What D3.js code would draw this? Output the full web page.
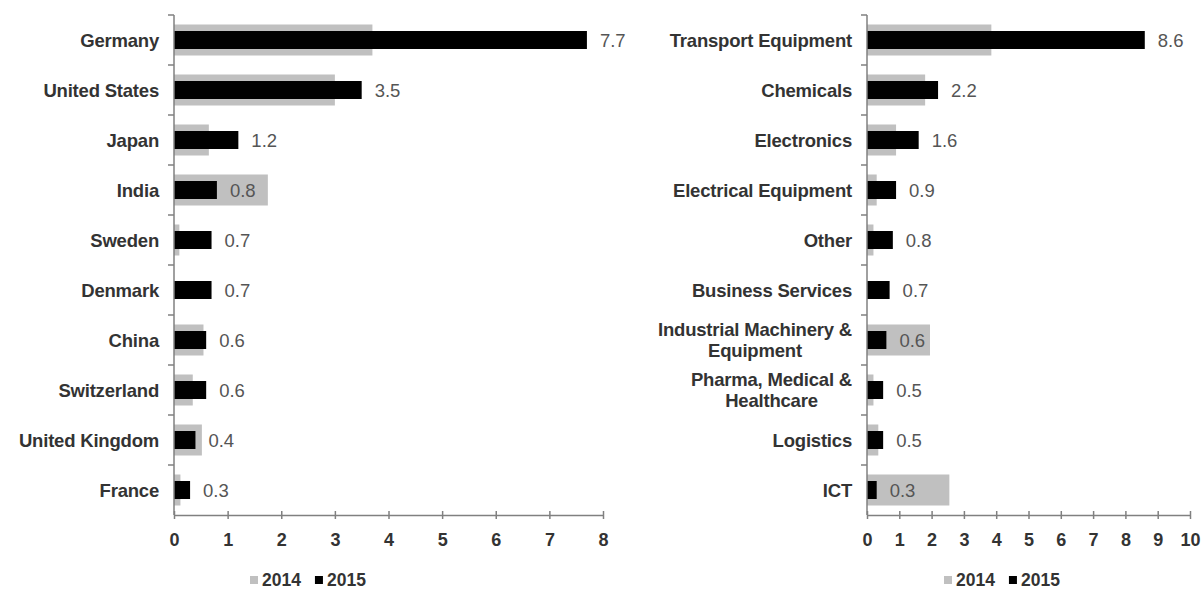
<!DOCTYPE html>
<html>
<head>
<meta charset="utf-8">
<script src="https://cdn.jsdelivr.net/npm/d3@7"></script>
<style>
  body { margin: 0; background: #fff; }
  svg { display: block; }
</style>
</head>
<body>
<div id="container"></div>
<script>
// data
const countries = ['Germany', 'United States', 'Japan', 'India', 'Sweden', 'Denmark', 'China', 'Switzerland', 'United Kingdom', 'France'];
const countries2014 = [3.7, 3.0, 0.65, 1.75, 0.1, 0, 0.55, 0.35, 0.52, 0.12];
const countries2015 = [7.7, 3.5, 1.2, 0.8, 0.7, 0.7, 0.6, 0.6, 0.4, 0.3];

const sectors = ['Transport Equipment', 'Chemicals', 'Electronics', 'Electrical Equipment', 'Other', 'Business Services', 'Industrial Machinery &\nEquipment', 'Pharma, Medical &\nHealthcare', 'Logistics', 'ICT'];
const sectors2014 = [3.85, 1.8, 0.9, 0.3, 0.2, 0, 1.95, 0.2, 0.35, 2.55];
const sectors2015 = [8.6, 2.2, 1.6, 0.9, 0.8, 0.7, 0.6, 0.5, 0.5, 0.3];

const years = ['2014', '2015'];
const leftTicks = d3.range(0, 9);
const rightTicks = d3.range(0, 11);

const width = 1203;
const height = 594;
const gray = '#c0c0c0';
const axisColor = '#808080';
const font = "'Liberation Sans', Arial, sans-serif";

const svg = d3.select('#container')
  .append('svg')
  .attr('width', width)
  .attr('height', height);

const drawPanel = (cfg) => {
  const g = svg.append('g');

  const x = d3.scaleLinear().domain([0, cfg.max]).range([cfg.x0, cfg.x1]);
  const y = d3.scaleBand().domain(cfg.cats).range([15, 515]);

  // 2014 wide grey bars
  g.selectAll('rect.y2014')
    .data(cfg.cats)
    .join('rect')
    .attr('class', 'y2014')
    .attr('x', x(0))
    .attr('y', (d) => y(d) + y.bandwidth() / 2 - 15.5)
    .attr('width', (d, i) => x(cfg.v2014[i]) - x(0))
    .attr('height', 31)
    .attr('fill', gray);

  // 2015 narrow black bars
  g.selectAll('rect.y2015')
    .data(cfg.cats)
    .join('rect')
    .attr('class', 'y2015')
    .attr('x', x(0))
    .attr('y', (d) => y(d) + y.bandwidth() / 2 - 9)
    .attr('width', (d, i) => x(cfg.v2015[i]) - x(0))
    .attr('height', 18)
    .attr('fill', '#000');

  // value labels
  g.selectAll('text.val')
    .data(cfg.cats)
    .join('text')
    .attr('class', 'val')
    .attr('x', (d, i) => x(cfg.v2015[i]) + 13)
    .attr('y', (d) => y(d) + y.bandwidth() / 2)
    .attr('dy', '0.36em')
    .attr('font-family', font)
    .attr('font-size', '18.5px')
    .attr('fill', '#555')
    .text((d, i) => cfg.v2015[i].toFixed(1));

  // y axis line + boundary ticks
  g.append('line')
    .attr('x1', x(0)).attr('x2', x(0))
    .attr('y1', 15).attr('y2', 515)
    .attr('stroke', axisColor)
    .attr('stroke-width', 1.5);
  g.selectAll('line.ytick')
    .data(d3.range(cfg.cats.length))
    .join('line')
    .attr('class', 'ytick')
    .attr('x1', x(0) - 6).attr('x2', x(0))
    .attr('y1', (i) => 15 + i * y.step())
    .attr('y2', (i) => 15 + i * y.step())
    .attr('stroke', axisColor)
    .attr('stroke-width', 1.5);

  // category labels, multi-line ones centred inside their block
  const labels = g.selectAll('text.cat')
    .data(cfg.cats)
    .join('text')
    .attr('class', 'cat')
    .attr('font-family', font)
    .attr('font-size', '18.5px')
    .attr('font-weight', 'bold')
    .attr('fill', '#333')
    .attr('letter-spacing', '-0.2px');
  labels.each(function (d) {
    const t = d3.select(this);
    const lines = d.split('\n');
    const cy = y(d) + y.bandwidth() / 2;
    const right = x(0) - 15;
    if (lines.length === 1) {
      t.attr('x', right).attr('y', cy).attr('dy', '0.36em')
        .attr('text-anchor', 'end').text(d);
    } else {
      const spans = lines.map((l, k) => t.append('tspan').text(l)
        .attr('y', cy + (k - (lines.length - 1) / 2) * 21)
        .attr('dy', '0.36em'));
      const widths = spans.map((s) => s.node().getComputedTextLength());
      const w = d3.max(widths);
      spans.forEach((s) => s.attr('x', right - w / 2).attr('text-anchor', 'middle'));
    }
  });

  // x axis
  const xAxis = g.append('g')
    .attr('transform', 'translate(0,515)')
    .call(d3.axisBottom(x).tickValues(cfg.ticks).tickSize(4).tickSizeOuter(0).tickFormat(d3.format('d')));
  xAxis.select('.domain').attr('stroke', axisColor).attr('stroke-width', 1.5);
  xAxis.selectAll('.tick line')
    .attr('y1', -4)
    .attr('stroke', axisColor)
    .attr('stroke-width', 1.5);
  xAxis.selectAll('.tick text')
    .attr('y', 18)
    .attr('font-family', font)
    .attr('font-size', '18px')
    .attr('font-weight', 'bold')
    .attr('fill', '#333');

  // legend
  const lg = g.append('g').attr('transform', `translate(${cfg.legendX},580)`);
  const colours = [gray, '#000'];
  let off = 0;
  years.forEach((yr, k) => {
    lg.append('rect')
      .attr('x', off).attr('y', -4)
      .attr('width', 8).attr('height', 8)
      .attr('fill', colours[k]);
    const txt = lg.append('text')
      .attr('x', off + 12)
      .attr('y', 0)
      .attr('dy', '0.36em')
      .attr('font-family', font)
      .attr('font-size', '17.5px')
      .attr('font-weight', 'bold')
      .attr('fill', '#333')
      .text(yr);
    off += 12 + txt.node().getComputedTextLength() + 14;
  });
};

drawPanel({
  cats: countries, v2014: countries2014, v2015: countries2015,
  max: 8, ticks: leftTicks, x0: 174, x1: 603, legendX: 250
});

drawPanel({
  cats: sectors, v2014: sectors2014, v2015: sectors2015,
  max: 10, ticks: rightTicks, x0: 867, x1: 1190, legendX: 944
});
</script>
</body>
</html>
